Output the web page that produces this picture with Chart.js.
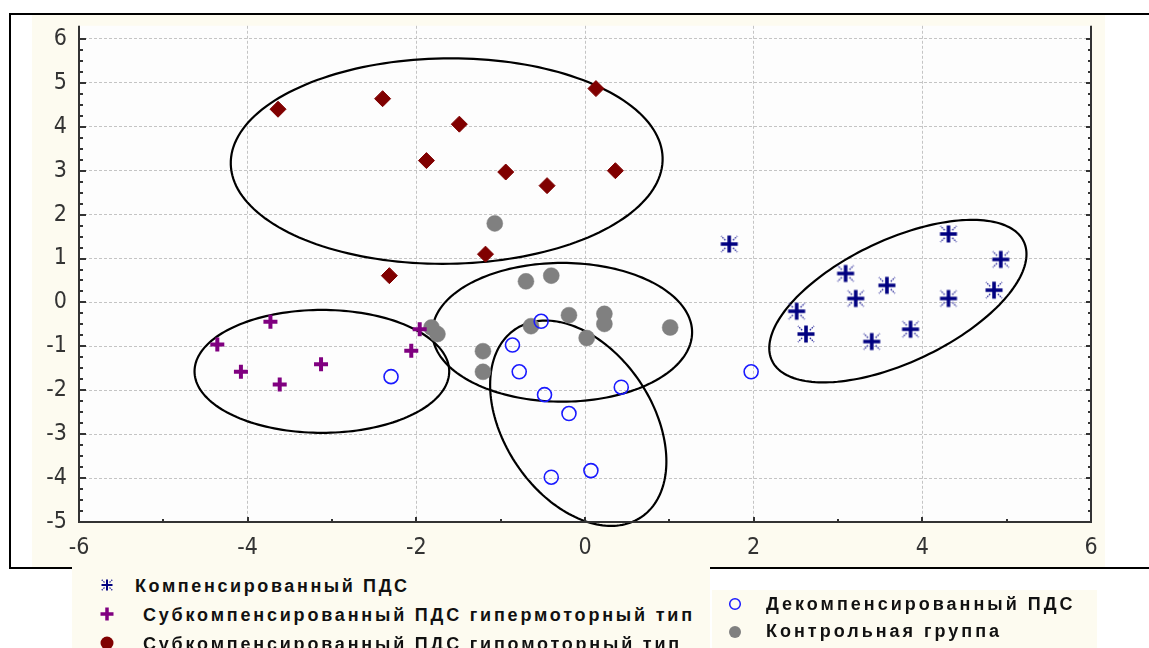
<!DOCTYPE html>
<html>
<head>
<meta charset="utf-8">
<script src="https://cdn.jsdelivr.net/npm/chart.js@4"></script>
<style>
  html, body { margin:0; padding:0; background:#fff; width:1149px; height:648px; overflow:hidden; }
  .frame { position:absolute; left:9px; top:13px; width:1200px; height:556px; box-sizing:border-box;
           border:2px solid #000; border-right:none; }
  .plotBg { position:absolute; left:32px; top:15px; width:1073px; height:552px; background:#fdfbf0; }
  #wrap { position:absolute; left:0; top:0; width:1149px; height:570px; }
  .legBox { position:absolute; background:#fdfbf0; }
  .legText { position:absolute; font:bold 18px "Liberation Sans", Arial, sans-serif; letter-spacing:2.7px;
             color:#111; white-space:nowrap; line-height:20px; }
  .legSym { position:absolute; }
</style>
</head>
<body>
<div class="plotBg"></div>
<div class="frame"></div>
<div id="wrap"><canvas id="grafico"></canvas></div>
<div class="legBox" style="left:72px; top:566px; width:638px; height:82px;"></div>
<div class="legBox" style="left:712px; top:590px; width:385px; height:58px;"></div>
<div id="legenda"></div>

<script>
// ---- данные ----
const seriesNames = [
    'Компенсированный ПДС',
    'Субкомпенсированный ПДС гипермоторный тип',
    'Субкомпенсированный ПДС гипомоторный тип',
    'Декомпенсированный ПДС',
    'Контрольная группа'
];

const compX = [1.71, 4.31, 4.93, 3.09, 3.58, 3.21, 4.31, 4.85, 2.51, 2.62, 3.40, 3.86];
const compY = [1.33, 1.56, 0.98, 0.66, 0.39, 0.09, 0.09, 0.28, -0.20, -0.72, -0.89, -0.61];

const hyperX = [-4.36, -3.73, -4.08, -3.62, -3.13, -1.96, -2.06];
const hyperY = [-0.96, -0.44, -1.58, -1.87, -1.41, -0.61, -1.10];

const hypoX = [-3.64, -2.40, -1.49, -1.88, -0.94, -0.45, 0.13, 0.36, -1.18, -2.32];
const hypoY = [4.40, 4.64, 4.06, 3.23, 2.97, 2.66, 4.87, 3.00, 1.10, 0.61];

const decompX = [-2.30, -0.52, -0.86, -0.78, -0.48, 0.43, -0.19, -0.40, 0.07, 1.97];
const decompY = [-1.69, -0.43, -0.97, -1.58, -2.10, -1.93, -2.53, -3.98, -3.83, -1.58];

const controlX = [-1.07, -0.70, -0.40, -1.82, -1.75, -1.21, -1.21, -0.64, -0.19, 0.02, 0.23, 0.23, 1.01];
const controlY = [1.80, 0.48, 0.61, -0.57, -0.72, -1.11, -1.58, -0.54, -0.29, -0.81, -0.26, -0.49, -0.57];

const xTicks = [-6, -4, -2, 0, 2, 4, 6];
const yTicks = [-5, -4, -3, -2, -1, 0, 1, 2, 3, 4, 5, 6];

// эллипсы: центр и два сопряжённых полудиаметра (в единицах данных)
const ellipseCenter = [[-1.64, 3.22], [-3.12, -1.57], [-0.27, -0.68], [-0.08, -2.75], [3.71, 0.03]];
const ellipseU = [[2.56, 0], [1.51, 0], [1.54, 0], [1.045, -0.87], [1.525, 1.07]];
const ellipseV = [[0.05, 2.34], [0, 1.40], [0, 1.58], [0, 2.17], [0, -1.51]];

function pontos(xs, ys) {
    return xs.map((x, i) => ({ x: x, y: ys[i] }));
}

// ---- маркеры ----
function drawAsterisk(g, cx, cy, arm, lw) {
    g.strokeStyle = '#000080';
    g.lineWidth = lw;
    g.beginPath();
    g.moveTo(cx - arm, cy); g.lineTo(cx + arm, cy);
    g.moveTo(cx, cy - arm); g.lineTo(cx, cy + arm);
    g.stroke();
    g.strokeStyle = '#2a2a9a';
    g.lineWidth = 1.3;
    g.setLineDash([1.6, 1]);
    const e = arm * 0.45, d = arm * 0.95;
    [[1, 1], [1, -1], [-1, 1], [-1, -1]].forEach(([sx, sy]) => {
        g.beginPath();
        g.moveTo(cx + sx * e, cy + sy * e);
        g.lineTo(cx + sx * d, cy + sy * d);
        g.stroke();
    });
    g.setLineDash([]);
}

const asterisco = document.createElement('canvas');
asterisco.width = 22;
asterisco.height = 22;
drawAsterisk(asterisco.getContext('2d'), 11, 11, 8.5, 3.6);

// ---- плагин: фон, эллипсы, оси ----
const plotExtras = {
    id: 'plotExtras',
    beforeDraw(chart) {
        const { ctx, chartArea: a } = chart;
        ctx.save();
        ctx.fillStyle = '#fdfdfd';
        ctx.fillRect(a.left, a.top, a.right - a.left, a.bottom - a.top);
        ctx.restore();
    },
    beforeDatasetsDraw(chart) {
        const { ctx, scales: { x, y } } = chart;
        ctx.save();
        ctx.strokeStyle = '#000';
        ctx.lineWidth = 2.2;
        ellipseCenter.forEach((c, k) => {
            const u = ellipseU[k], v = ellipseV[k];
            ctx.beginPath();
            for (let i = 0; i <= 180; i++) {
                const t = i / 180 * Math.PI * 2;
                const px = x.getPixelForValue(c[0] + u[0] * Math.cos(t) + v[0] * Math.sin(t));
                const py = y.getPixelForValue(c[1] + u[1] * Math.cos(t) + v[1] * Math.sin(t));
                if (i === 0) ctx.moveTo(px, py); else ctx.lineTo(px, py);
            }
            ctx.closePath();
            ctx.stroke();
        });
        ctx.restore();
    },
    afterDraw(chart) {
        const { ctx, chartArea: a, scales: { x, y } } = chart;
        ctx.save();
        ctx.strokeStyle = '#333';
        ctx.lineWidth = 2;
        ctx.beginPath();
        ctx.moveTo(a.left, a.top); ctx.lineTo(a.left, a.bottom);
        ctx.lineTo(a.right, a.bottom); ctx.lineTo(a.right, a.top);
        ctx.stroke();

        ctx.lineWidth = 2;
        ctx.beginPath();
        for (let v = y.min; v <= 6; v += 0.25) {
            const py = Math.round(y.getPixelForValue(v));
            const major = Math.abs(v - Math.round(v)) < 1e-6;
            ctx.moveTo(a.left, py); ctx.lineTo(a.left + (major ? 7 : 4), py);
            ctx.moveTo(a.right, py); ctx.lineTo(a.right - (major ? 5 : 3), py);
        }
        for (let v = x.min; v <= x.max; v += 1) {
            const px = Math.round(x.getPixelForValue(v));
            ctx.moveTo(px, a.bottom); ctx.lineTo(px, a.bottom - (v % 2 === 0 ? 5 : 3));
        }
        ctx.stroke();
        ctx.restore();
    }
};

const fonteEixo = { family: '"Liberation Sans Narrow", "DejaVu Sans Condensed", Arial, sans-serif', size: 23 };

const grafico = new Chart(document.getElementById('grafico'), {
    type: 'scatter',
    data: {
        datasets: [
            {
                label: seriesNames[0],
                data: pontos(compX, compY),
                pointStyle: asterisco,
                pointRadius: 11
            },
            {
                label: seriesNames[1],
                data: pontos(hyperX, hyperY),
                pointStyle: 'cross',
                pointRadius: 7,
                borderWidth: 4,
                borderColor: '#800080'
            },
            {
                label: seriesNames[2],
                data: pontos(hypoX, hypoY),
                pointStyle: 'rectRot',
                pointRadius: 8,
                borderWidth: 1,
                borderColor: '#800000',
                backgroundColor: '#800000'
            },
            {
                label: seriesNames[3],
                data: pontos(decompX, decompY),
                pointStyle: 'circle',
                pointRadius: 7,
                borderWidth: 1.6,
                borderColor: '#1a1aff',
                backgroundColor: 'rgba(255,255,255,0)'
            },
            {
                label: seriesNames[4],
                data: pontos(controlX, controlY),
                pointStyle: 'circle',
                pointRadius: 8,
                borderWidth: 0.5,
                borderColor: '#808080',
                backgroundColor: '#808080'
            }
        ]
    },
    options: {
        responsive: true,
        maintainAspectRatio: false,
        animation: false,
        events: [],
        layout: {
            padding: { top: 15, right: 58, bottom: 0, left: 0 }
        },
        plugins: {
            legend: { display: false },
            tooltip: { enabled: false }
        },
        scales: {
            x: {
                type: 'linear',
                min: -6,
                max: 6,
                afterBuildTicks: s => { s.ticks = xTicks.map(v => ({ value: v })); },
                afterFit: s => { s.height = 48; },
                ticks: { font: fonteEixo, color: '#333', padding: 12, maxRotation: 0, callback: v => String(v) },
                grid: { color: '#c4c4c4', lineWidth: 1, drawTicks: false },
                border: { display: false, dash: [3, 2] }
            },
            y: {
                type: 'linear',
                min: -5,
                max: 6.3,
                afterBuildTicks: s => { s.ticks = yTicks.map(v => ({ value: v })); },
                afterFit: s => { s.width = 79; },
                ticks: { font: fonteEixo, color: '#333', padding: 12, callback: v => String(v) },
                grid: { color: '#c4c4c4', lineWidth: 1, drawTicks: false },
                border: { display: false, dash: [3, 2] }
            }
        }
    },
    plugins: [plotExtras]
});

// ---- легенда ----
const legendaPos = [
    { sx: 107, sy: 585, tx: 135, ty: 586, ls: 2.6 },
    { sx: 107, sy: 614, tx: 143, ty: 615, ls: 2.8 },
    { sx: 107, sy: 643, tx: 143, ty: 644, ls: 2.8 },
    { sx: 735, sy: 604, tx: 766, ty: 604, ls: 3.0 },
    { sx: 735, sy: 632, tx: 766, ty: 631, ls: 3.0 }
];

const simbolos = [
    g => drawAsterisk(g, 12, 12, 5.5, 2),
    g => {
        g.strokeStyle = '#800080'; g.lineWidth = 3.5; g.beginPath();
        g.moveTo(5.5, 12); g.lineTo(18.5, 12); g.moveTo(12, 5.5); g.lineTo(12, 18.5); g.stroke();
    },
    g => { g.fillStyle = '#800000'; g.beginPath(); g.arc(12, 12, 6.5, 0, Math.PI * 2); g.fill(); },
    g => { g.strokeStyle = '#1a1aff'; g.lineWidth = 1.5; g.beginPath(); g.arc(12, 12, 5.3, 0, Math.PI * 2); g.stroke(); },
    g => { g.fillStyle = '#808080'; g.beginPath(); g.arc(12, 12, 6, 0, Math.PI * 2); g.fill(); }
];

const legenda = document.getElementById('legenda');
seriesNames.forEach((nome, i) => {
    const p = legendaPos[i];
    const c = document.createElement('canvas');
    c.width = 24; c.height = 24;
    c.className = 'legSym';
    c.style.left = (p.sx - 12) + 'px';
    c.style.top = (p.sy - 12) + 'px';
    simbolos[i](c.getContext('2d'));
    legenda.appendChild(c);

    const t = document.createElement('div');
    t.className = 'legText';
    t.style.left = p.tx + 'px';
    t.style.top = (p.ty - 10) + 'px';
    t.style.letterSpacing = p.ls + 'px';
    t.textContent = nome;
    legenda.appendChild(t);
});
</script>
</body>
</html>
